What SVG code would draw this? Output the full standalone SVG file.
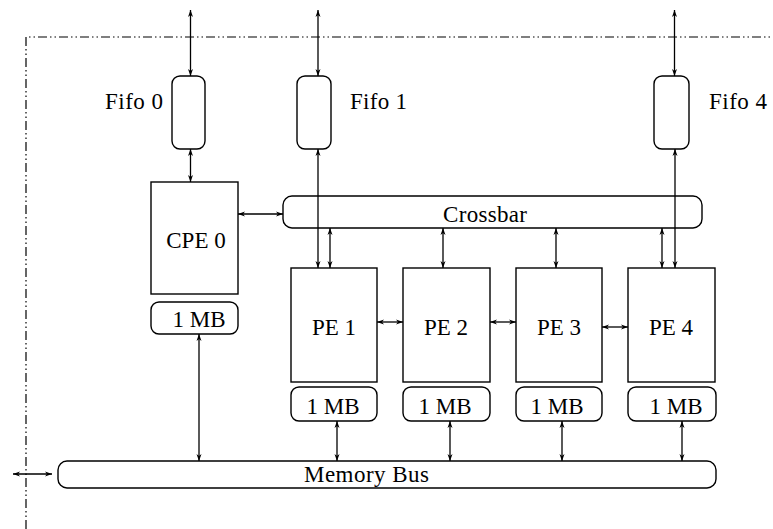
<svg xmlns="http://www.w3.org/2000/svg" width="773" height="529" viewBox="0 0 773 529">
<style>
.b{fill:#fff;stroke:#000;stroke-width:1.4}
.t{font-family:"Liberation Serif","Times New Roman",serif;font-size:23px;fill:#000}
.c{text-anchor:middle}
.l{stroke:#000;stroke-width:1.3;fill:none;marker-start:url(#a);marker-end:url(#a)}
.f{stroke:#000;stroke-width:1.2;fill:none;stroke-dasharray:9 3 1.5 3 1.5 3}
</style>
<defs>
<marker id="a" viewBox="0 0 7 6" refX="7" refY="3" markerWidth="7" markerHeight="6" markerUnits="userSpaceOnUse" orient="auto-start-reverse">
<path d="M0,0.5 L7,3 L0,5.5 L2,3 z" fill="#000"/>
</marker>
</defs>
<path class="f" d="M26,529 V37 H773"/>
<g id="fifo0"><rect class="b" x="172" y="76" width="33" height="73" rx="8"/><text class="t" x="105" y="109" textLength="58">Fifo 0</text></g>
<g id="fifo1"><rect class="b" x="297" y="76" width="34" height="73" rx="8"/><text class="t" x="350" y="109" textLength="57">Fifo 1</text></g>
<g id="fifo4"><rect class="b" x="654" y="76" width="35" height="73" rx="8"/><text class="t" x="709" y="109" textLength="58">Fifo 4</text></g>
<g id="cpe0"><rect class="b" x="151" y="182" width="87" height="112"/><text class="t c" x="196" y="248">CPE 0</text></g>
<g id="mem0"><rect class="b" x="151" y="302" width="87" height="32" rx="8"/><text class="t c" x="199" y="327">1 MB</text></g>
<g id="crossbar"><rect class="b" x="283" y="196" width="419" height="32" rx="9"/><text class="t" x="443" y="222" textLength="84">Crossbar</text></g>
<g id="pe1"><rect class="b" x="291" y="268" width="86" height="114"/><text class="t c" x="334" y="335">PE 1</text></g>
<g id="pe2"><rect class="b" x="403" y="268" width="87" height="114"/><text class="t c" x="446" y="335">PE 2</text></g>
<g id="pe3"><rect class="b" x="516" y="268" width="86" height="114"/><text class="t c" x="559" y="335">PE 3</text></g>
<g id="pe4"><rect class="b" x="628" y="268" width="87" height="114"/><text class="t c" x="671" y="335">PE 4</text></g>
<g id="mem1"><rect class="b" x="291" y="387" width="86" height="34" rx="8"/><text class="t c" x="333" y="414">1 MB</text></g>
<g id="mem2"><rect class="b" x="403" y="387" width="87" height="34" rx="8"/><text class="t c" x="445" y="414">1 MB</text></g>
<g id="mem3"><rect class="b" x="516" y="387" width="86" height="34" rx="8"/><text class="t c" x="557" y="414">1 MB</text></g>
<g id="mem4"><rect class="b" x="628" y="387" width="88" height="34" rx="8"/><text class="t c" x="676" y="414">1 MB</text></g>
<g id="membus"><rect class="b" x="58" y="461" width="658" height="27" rx="9"/><text class="t" x="304" y="482" textLength="125">Memory Bus</text></g>
<g id="connectors">
<line class="l" x1="190.5" y1="10" x2="190.5" y2="76"/>
<line class="l" x1="318" y1="10" x2="318" y2="76"/>
<line class="l" x1="674.5" y1="10" x2="674.5" y2="76"/>
<line class="l" x1="190.5" y1="149" x2="190.5" y2="182"/>
<line class="l" x1="318" y1="149" x2="318" y2="268"/>
<line class="l" x1="675" y1="149" x2="675" y2="268"/>
<line class="l" x1="238" y1="214" x2="283" y2="214"/>
<line class="l" x1="330" y1="228" x2="330" y2="268"/>
<line class="l" x1="443" y1="228" x2="443" y2="268"/>
<line class="l" x1="556" y1="228" x2="556" y2="268"/>
<line class="l" x1="662" y1="228" x2="662" y2="268"/>
<line class="l" x1="377" y1="322" x2="403" y2="322"/>
<line class="l" x1="490" y1="322" x2="516" y2="322"/>
<line class="l" x1="602" y1="327" x2="628" y2="327"/>
<line class="l" x1="199" y1="334" x2="199" y2="461"/>
<line class="l" x1="337" y1="421" x2="337" y2="461"/>
<line class="l" x1="450" y1="421" x2="450" y2="461"/>
<line class="l" x1="562" y1="421" x2="562" y2="461"/>
<line class="l" x1="682" y1="421" x2="682" y2="461"/>
<line class="l" x1="13" y1="474" x2="52" y2="474"/>
</g>
</svg>
